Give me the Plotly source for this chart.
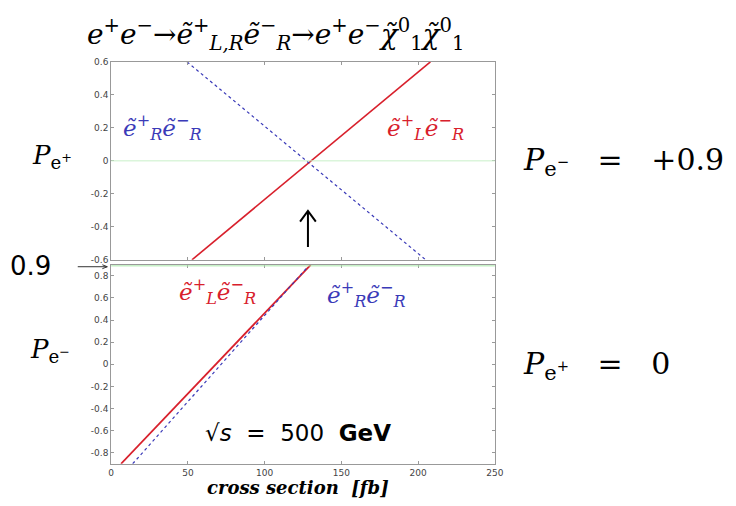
import plotly.graph_objects as go
from plotly.subplots import make_subplots

# top panel: P(e-) = +0.9, P(e+) scanned
top_red_x = [52.6, 208]
top_red_y = [-0.6, 0.6]
top_blue_x = [49.4, 205]
top_blue_y = [0.6, -0.6]

# bottom panel: P(e+) = 0, P(e-) scanned
bot_red_x = [6.4, 130]
bot_red_y = [-0.9, 0.9]
bot_blue_x = [14, 128]
bot_blue_y = [-0.9, 0.88]

x_ticks = [0, 50, 100, 150, 200, 250]
top_ticks = [-0.6, -0.4, -0.2, 0, 0.2, 0.4, 0.6]
bot_ticks = [-0.8, -0.6, -0.4, -0.2, 0, 0.2, 0.4, 0.6, 0.8]

W, H = 736, 506
RED = "#d8202c"
BLUE = "#3a3ab8"
SERIF = "DejaVu Serif"


def px(x):
    return x / W


def py(y):
    return 1 - y / H


fig = make_subplots(rows=2, cols=1, shared_xaxes=False)

fig.add_trace(go.Scatter(x=top_red_x, y=top_red_y, mode="lines",
                         line=dict(color=RED, width=1.6)), row=1, col=1)
fig.add_trace(go.Scatter(x=top_blue_x, y=top_blue_y, mode="lines",
                         line=dict(color=BLUE, width=1.2, dash="dot")), row=1, col=1)
fig.add_trace(go.Scatter(x=bot_red_x, y=bot_red_y, mode="lines",
                         line=dict(color=RED, width=1.8)), row=2, col=1)
fig.add_trace(go.Scatter(x=bot_blue_x, y=bot_blue_y, mode="lines",
                         line=dict(color=BLUE, width=1.2, dash="dot")), row=2, col=1)

# faint green reference lines
fig.add_hline(y=0, line=dict(color="#c8f0c8", width=1), row=1, col=1)
fig.add_hline(y=0.89, line=dict(color="#a8e8a8", width=1), row=2, col=1)

axis_style = dict(showline=True, linecolor="#999", linewidth=1, mirror="ticks",
                  ticks="inside", ticklen=3, tickcolor="#999", showgrid=False,
                  zeroline=False, tickfont=dict(family="DejaVu Sans", size=9, color="#444"))

fig.update_xaxes(range=[0, 250], tickvals=x_ticks, showticklabels=False,
                 domain=[px(110), px(500)], row=1, col=1, **axis_style)
fig.update_xaxes(range=[0, 250], tickvals=x_ticks, domain=[px(110), px(500)],
                 row=2, col=1, **axis_style)
fig.update_yaxes(range=[-0.6, 0.6], tickvals=top_ticks,
                 ticktext=[f"{v:g}" for v in top_ticks],
                 domain=[py(260), py(58)], row=1, col=1, **axis_style)
fig.update_yaxes(range=[-0.9, 0.9], tickvals=bot_ticks,
                 ticktext=[f"{v:g}" for v in bot_ticks],
                 domain=[py(468), py(265)], row=2, col=1, **axis_style)

ann = []


def label(text, x, y, size, color="black", family=SERIF, xanchor="center"):
    ann.append(dict(text=text, x=px(x), y=py(y), xref="paper", yref="paper",
                    showarrow=False, xanchor=xanchor, yanchor="middle",
                    font=dict(family=family, size=size, color=color)))


label("<i>e</i><sup>+</sup><i>e</i><sup>−</sup>→<i>ẽ</i><sup>+</sup><sub><i>L,R</i></sub>"
      "<i>ẽ</i><sup>−</sup><sub><i>R</i></sub>→<i>e</i><sup>+</sup><i>e</i><sup>−</sup>"
      "<i>χ̃</i><sup>0</sup><sub>1</sub><i>χ̃</i><sup>0</sup><sub>1</sub>",
      278, 30, 28)

label("<i>ẽ</i><sup>+</sup><sub><i>R</i></sub><i>ẽ</i><sup>−</sup><sub><i>R</i></sub>",
      162, 125, 23, BLUE)
label("<i>ẽ</i><sup>+</sup><sub><i>L</i></sub><i>ẽ</i><sup>−</sup><sub><i>R</i></sub>",
      430, 125, 23, RED)
label("<i>ẽ</i><sup>+</sup><sub><i>L</i></sub><i>ẽ</i><sup>−</sup><sub><i>R</i></sub>",
      218, 292, 23, RED)
label("<i>ẽ</i><sup>+</sup><sub><i>R</i></sub><i>ẽ</i><sup>−</sup><sub><i>R</i></sub>",
      370, 295, 23, BLUE)

label("<i>P</i><sub>e<sup>+</sup></sub>", 50, 155, 26)
label("<i>P</i><sub>e<sup>−</sup></sub>", 48, 352, 26)
label("<i>P</i><sub>e<sup>−</sup></sub>   =   +0.9", 527, 160, 30, xanchor="left")
label("<i>P</i><sub>e<sup>+</sup></sub>   =   0", 527, 368, 30, xanchor="left")

label("0.9", 28, 266, 26, family="DejaVu Sans")

label("√<i>s</i>  =  500  <b>GeV</b>", 300, 437, 23, family="DejaVu Sans")
label("<b><i>cross section  [fb]</i></b>", 300, 492, 18)

# thin upward arrow under the crossing point
arrow = "M {0},{1} L {0},{2} M {3},{4} L {0},{2} L {5},{4}".format(
    px(310), py(247), py(210), px(302), py(221), px(318))
fig.add_shape(type="path", path=arrow, xref="paper", yref="paper",
              line=dict(color="black", width=2))

# small arrow pointing at the 0.9 line
arrow09 = "M {0},{1} L {2},{1} M {3},{4} L {2},{1} L {3},{5}".format(
    px(76), py(267), px(106), px(101), py(265), py(269))
fig.add_shape(type="path", path=arrow09, xref="paper", yref="paper",
              line=dict(color="#333", width=1))

fig.update_layout(width=W, height=H, margin=dict(l=0, r=0, t=0, b=0),
                  plot_bgcolor="white", paper_bgcolor="white",
                  showlegend=False, annotations=ann)

fig.write_html("out.html", config={"displayModeBar": False},
               post_script="document.body.style.margin='0';")
